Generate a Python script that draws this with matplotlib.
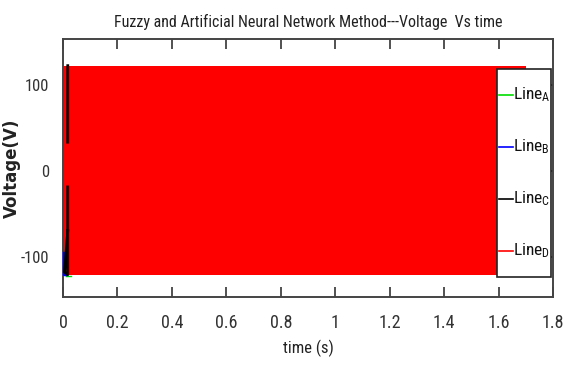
import matplotlib
matplotlib.use("Agg")
import matplotlib.pyplot as plt
from matplotlib import font_manager as fm
from matplotlib.patches import Rectangle
from matplotlib.lines import Line2D

# ---------------- data ----------------
series_names = ["A", "B", "C", "D"]
series_colors = ["#00dd00", "#0000ff", "#000000", "#ff0000"]

# Line D : dense sinusoid, drawn through its envelope
line_d_time = [0.0, 1.70]
line_d_upper = [122, 122]
line_d_lower = [-121, -121]

# Line C : short start-up transient (black)
line_c_time = [0.0175, 0.0175, float("nan"), 0.0175, 0.0175, 0.006, 0.0175]
line_c_value = [122, 33, float("nan"), -19, -121, -118, -70]

# Line B : short start-up transient (blue)
line_b_time = [0.003, 0.003, 0.010]
line_b_value = [-96, -120, -120]

# Line A : short start-up transient (green)
line_a_time = [0.010, 0.030]
line_a_value = [-122, -122]

x_ticks = [0, 0.2, 0.4, 0.6, 0.8, 1.0, 1.2, 1.4, 1.6, 1.8]
x_tick_labels = ["0", "0.2", "0.4", "0.6", "0.8", "1", "1.2", "1.4", "1.6", "1.8"]
y_ticks = [-100, 0, 100]
y_tick_labels = ["-100", "0", "100"]

title = "Fuzzy and Artificial Neural Network Method---Voltage  Vs time"
x_label = "time (s)"
y_label = "Voltage(V)"

# ---------------- fonts ----------------
names = {f.name for f in fm.fontManager.ttflist}
narrow = None
for cand in ["Liberation Sans Narrow", "Roboto Condensed", "Open Sans Condensed",
             "Arial Narrow", "Nimbus Sans Narrow"]:
    if cand in names:
        narrow = cand
        break
narrow_stretch = "normal"
if narrow is None:
    cond = [f for f in fm.fontManager.ttflist
            if f.name == "DejaVu Sans" and f.stretch in ("condensed", "semi-condensed")]
    if cond:
        narrow = "DejaVu Sans"
        narrow_stretch = "condensed"
    else:
        narrow = "Liberation Sans"
NF = dict(family=narrow, stretch=narrow_stretch)
plt.rcParams["mathtext.default"] = "regular"

# ---------------- figure ----------------
fig = plt.figure(figsize=(5.68, 3.76), dpi=100)
ax = fig.add_axes([63 / 568, 1 - 297 / 376, 490 / 568, 258 / 376])
ax.set_axisbelow(True)

ax.fill_between(line_d_time, line_d_lower, line_d_upper, color=series_colors[3],
                lw=0, zorder=2)
ax.plot(line_a_time, line_a_value, color=series_colors[0], lw=1, zorder=3)
ax.plot(line_b_time, line_b_value, color=series_colors[1], lw=2.5, zorder=3)
ax.plot(line_c_time, line_c_value, color=series_colors[2], lw=2.0, zorder=4)

ax.set_xlim(0, 1.8)
ax.set_ylim(-147, 153)
ax.set_xticks(x_ticks)
ax.set_xticklabels(x_tick_labels, **NF, fontsize=13, color="#333333")
ax.set_yticks(y_ticks)
ax.set_yticklabels(y_tick_labels, **NF, fontsize=12, color="#333333")
ax.tick_params(axis="x", direction="in", top=True, bottom=True, length=7,
               width=1.2, color="#333333", pad=12)
ax.tick_params(axis="y", direction="in", left=True, right=True, length=7,
               width=1.2, color="#333333", pad=10)
for s in ax.spines.values():
    s.set_color("#444444")
    s.set_linewidth(1.4)

ax.set_title(title, **NF, fontsize=11.5, color="#222222", pad=9)
ax.set_xlabel(x_label, **NF, fontsize=12, color="#222222", labelpad=6)
ax.set_ylabel(y_label, family="DejaVu Sans", fontweight="bold", fontsize=12,
              color="#222222")
ax.yaxis.set_label_coords((21 - 63) / 490, 0.5)

# ---------------- legend (drawn in axes coordinates) ----------------
bx0 = (497 - 63) / 490
bx1 = (551 - 63) / 490
by0 = (297 - 277) / 258
by1 = (297 - 69) / 258
ax.add_patch(Rectangle((bx0, by0), bx1 - bx0, by1 - by0, transform=ax.transAxes,
                       facecolor="white", edgecolor="#222222", lw=1.2, zorder=10))
n = len(series_names)
hx0 = bx0 + 2 / 490
hx1 = bx0 + 16 / 490
for i, (nm, col) in enumerate(zip(series_names, series_colors)):
    yc = by1 - (i + 0.5) * (by1 - by0) / n
    ax.add_line(Line2D([hx0, hx1], [yc, yc], color=col, lw=1.2,
                       transform=ax.transAxes, zorder=11))
    ax.text(hx1, yc, "Line$_\\mathregular{%s}$" % nm, transform=ax.transAxes,
            ha="left", va="center", **NF, fontsize=12.5, color="#111111", zorder=11)

fig.savefig("out.png", dpi=100)
